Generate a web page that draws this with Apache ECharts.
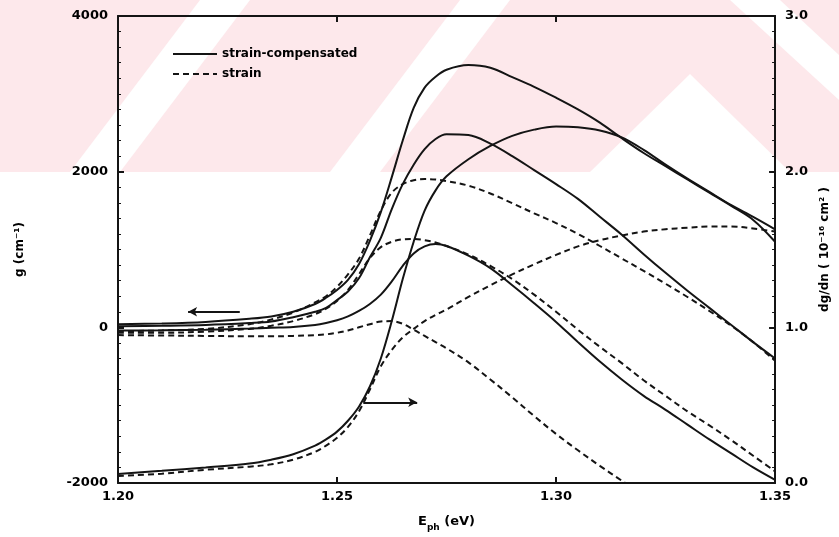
<!DOCTYPE html>
<html><head><meta charset="utf-8">
<script src="https://cdn.jsdelivr.net/npm/echarts@6/dist/echarts.min.js"></script>
<style>html,body{margin:0;padding:0;background:#fff}#c{width:839px;height:537px}</style>
</head><body><div id="c"></div>
<script>
// photon energy grid (eV)
const energy = [1.200,1.210,1.220,1.230,1.235,1.240,1.245,1.2475,1.250,1.2525,1.255,1.2575,1.260,1.2625,1.265,1.2675,1.270,1.2725,1.275,1.280,1.285,1.290,1.295,1.300,1.305,1.310,1.315,1.320,1.325,1.330,1.335,1.340,1.345,1.350];

// gain g (cm^-1), strain-compensated (solid), three carrier densities
const gainSC1 = [40,50,70,110,140,200,300,380,480,610,810,1110,1480,1930,2400,2820,3080,3220,3310,3370,3335,3215,3090,2950,2800,2630,2430,2240,2070,1900,1730,1560,1380,1100];
const gainSC2 = [15,20,30,55,75,130,200,250,350,460,630,900,1150,1520,1840,2090,2290,2420,2480,2470,2360,2200,2020,1840,1650,1420,1190,940,700,470,250,30,-190,-400];
const gainSC3 = [-40,-38,-30,-15,-5,5,30,55,90,140,210,300,420,590,790,950,1040,1070,1045,920,760,540,310,70,-190,-440,-670,-880,-1060,-1250,-1440,-1620,-1800,-1960];

// gain g (cm^-1), strain only (dashed)
const gainS1 = [-50,-40,-20,40,100,190,320,400,520,680,880,1180,1500,1730,1840,1890,1905,1900,1880,1820,1720,1595,1465,1340,1200,1045,885,725,560,390,210,20,-190,-430];
const gainS2 = [-70,-70,-55,-20,20,80,170,240,340,480,680,890,1030,1100,1130,1135,1120,1090,1045,935,790,620,420,200,-30,-250,-460,-680,-880,-1080,-1260,-1450,-1650,-1850];
const gainS3 = [-100,-105,-110,-115,-115,-110,-100,-90,-70,-40,0,40,75,80,45,-30,-110,-190,-270,-450,-670,-900,-1140,-1370,-1580,-1780,-1970,-2160,null,null,null,null,null,null];

// differential gain dg/dn (10^-16 cm^2)
const dgdnSC = [0.058,0.078,0.10,0.125,0.15,0.185,0.24,0.28,0.33,0.40,0.49,0.62,0.80,1.04,1.31,1.55,1.75,1.88,1.97,2.08,2.165,2.23,2.27,2.29,2.285,2.265,2.22,2.14,2.045,1.955,1.87,1.785,1.71,1.63];
const dgdnS  = [0.045,0.06,0.085,0.105,0.12,0.15,0.20,0.24,0.29,0.36,0.46,0.60,0.75,0.855,0.935,0.99,1.04,1.08,1.115,1.195,1.27,1.34,1.405,1.465,1.52,1.56,1.59,1.615,1.63,1.64,1.648,1.648,1.635,1.615];

// axis ticks
const xTicks = [1.20,1.25,1.30,1.35];
const gTicks = [-2000,0,2000,4000];
const dgTicks = [0.0,1.0,2.0,3.0];

// arrows pointing to the axis each family belongs to: [x_from, x_to(head), g]
const arrowSegments = [[1.2278,1.2160,200],[1.2560,1.2683,-963]];

const pairs = v => energy.map((e,i)=>[e,v[i]]).filter(p=>p[1]!=null);
const INK = '#141414';
const FONT = 'DejaVu Sans';

function mk(name, vals, dashed, yIdx){
  return {
    name, type:'line', data:pairs(vals), yAxisIndex:yIdx||0,
    symbol:'none', showSymbol:false, smooth:0.35, clip:true,
    lineStyle:{color:INK, width:2, type: dashed ? [6,4] : 'solid'},
    itemStyle:{color:INK}, silent:true, z:3
  };
}

const series = [
  mk('strain-compensated', gainSC1, false),
  mk('strain-compensated', gainSC2, false),
  mk('strain-compensated', gainSC3, false),
  mk('strain', gainS1, true),
  mk('strain', gainS2, true),
  mk('strain', gainS3, true),
  mk('strain-compensated', dgdnSC, false, 1),
  mk('strain', dgdnS, true, 1)
];
series[0].markLine = {
  silent:true, animation:false, symbol:['none','arrow'], symbolSize:[7,9],
  label:{show:false},
  lineStyle:{color:INK, width:2, type:'solid'},
  emphasis:{disabled:true},
  data: arrowSegments.map(a=>[{coord:[a[0],a[2]]},{coord:[a[1],a[2]]}])
};

const labelStyle = {color:'#000', fontWeight:'bold', fontFamily:FONT, fontSize:13};
const axisLine = {show:true, onZero:false, lineStyle:{color:INK, width:2}};

const chart = echarts.init(document.getElementById('c'), null, {renderer:'canvas'});
chart.setOption({
  animation:false,
  backgroundColor:'#fff',
  graphic:[
    {type:'rect', z:-10, silent:true, shape:{x:0,y:0,width:839,height:172}, style:{fill:'#fde8eb'}},
    {type:'polygon', z:-9, silent:true, shape:{points:[[70,172],[120,172],[250,0],[200,0]]}, style:{fill:'#fff'}},
    {type:'polygon', z:-9, silent:true, shape:{points:[[330,172],[380,172],[510,0],[460,0]]}, style:{fill:'#fff'}},
    {type:'polygon', z:-9, silent:true, shape:{points:[[590,172],[690,74],[790,172]]}, style:{fill:'#fff'}},
    {type:'polygon', z:-9, silent:true, shape:{points:[[730,0],[780,0],[839,55],[839,100]]}, style:{fill:'#fff'}}
  ],
  grid:{left:118, right:51, top:16, bottom:52, containLabel:false},
  legend:{
    left:167, top:43, orient:'vertical', itemWidth:44, itemHeight:14, itemGap:8,
    selectedMode:false,
    itemStyle:{opacity:0, borderWidth:0},
    textStyle:{color:'#000', fontWeight:'bold', fontFamily:FONT, fontSize:12},
    data:[{name:'strain-compensated'},{name:'strain'}]
  },
  xAxis:[
    {type:'value', position:'bottom', min:xTicks[0], max:xTicks[xTicks.length-1], interval:0.05,
     axisLine, axisTick:{show:true, inside:true, length:6, lineStyle:{color:INK,width:2}},
     splitLine:{show:false},
     axisLabel:{...labelStyle, margin:7, formatter:v=>v.toFixed(2)},
     name:'{a|E}{b|ph}{a| (eV)}', nameLocation:'middle', nameGap:29,
     nameTextStyle:{rich:{
       a:{fontSize:13, fontWeight:'bold', fontFamily:FONT, color:'#000', lineHeight:20, verticalAlign:'middle'},
       b:{fontSize:9, fontWeight:'bold', fontFamily:FONT, color:'#000', lineHeight:20, verticalAlign:'bottom'}
     }}
    },
    {type:'value', position:'top', min:xTicks[0], max:xTicks[xTicks.length-1], interval:0.05,
     axisLine, axisTick:{show:true, inside:true, length:6, lineStyle:{color:INK,width:2}},
     axisLabel:{show:false}, splitLine:{show:false}}
  ],
  yAxis:[
    {type:'value', position:'left', min:gTicks[0], max:gTicks[gTicks.length-1], interval:2000,
     axisLine, axisTick:{show:true, inside:true, length:6, lineStyle:{color:INK,width:2}},
     minorTick:{show:true, splitNumber:10, length:3, lineStyle:{color:INK,width:1}},
     splitLine:{show:false},
     axisLabel:{...labelStyle, margin:10, formatter:v=>String(v)},
     name:'g (cm\u207B\u00B9)', nameLocation:'middle', nameGap:92,
     nameTextStyle:{color:'#000', fontWeight:'bold', fontFamily:FONT, fontSize:12}
    },
    {type:'value', position:'right', min:dgTicks[0], max:dgTicks[dgTicks.length-1], interval:1,
     axisLine, axisTick:{show:true, inside:true, length:6, lineStyle:{color:INK,width:2}},
     minorTick:{show:true, splitNumber:10, length:3, lineStyle:{color:INK,width:1}},
     splitLine:{show:false},
     axisLabel:{...labelStyle, margin:10, formatter:v=>v.toFixed(1)},
     name:'dg/dn ( 10\u207B\u00B9\u2076 cm\u00B2 )', nameLocation:'middle', nameGap:26,
     nameTextStyle:{color:'#000', fontWeight:'bold', fontFamily:FONT, fontSize:12}
    }
  ],
  series
});
</script></body></html>
